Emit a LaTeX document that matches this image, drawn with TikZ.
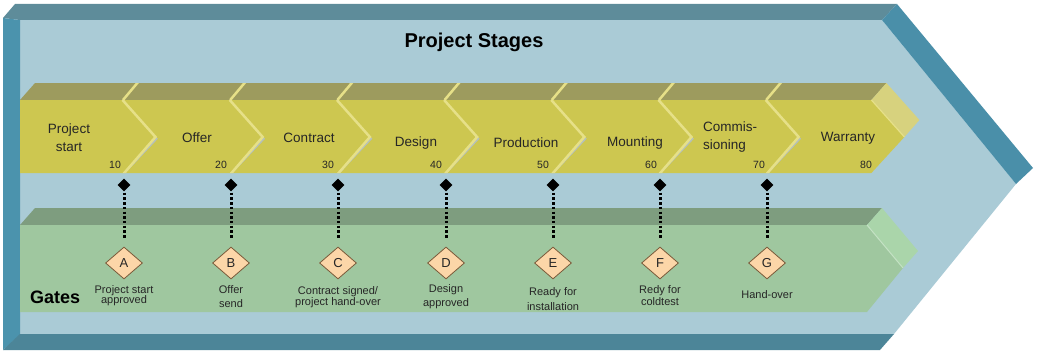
\documentclass[tikz,border=0pt]{standalone}
\usepackage{fontspec}
\setmainfont{Liberation Sans}
\usetikzlibrary{shapes.geometric}
\definecolor{face}{HTML}{AACBD6}
\definecolor{topband}{HTML}{5E8C9A}
\definecolor{leftband}{HTML}{4B93AD}
\definecolor{rightband}{HTML}{4A8FA9}
\definecolor{botband}{HTML}{4C8598}
\definecolor{yfront}{HTML}{CDC750}
\definecolor{ytop}{HTML}{9D9B5E}
\definecolor{yside}{HTML}{D7D27E}
\definecolor{ysep}{HTML}{E6E088}
\definecolor{yshadow}{HTML}{B4C0BC}
\definecolor{gfront}{HTML}{9FC79F}
\definecolor{gtop}{HTML}{7E9D7F}
\definecolor{gside}{HTML}{AAD5AA}
\definecolor{gatefill}{HTML}{FCD6A8}
\definecolor{gatedraw}{HTML}{7A5A3A}
\definecolor{txt}{HTML}{262626}
\tikzset{
  stagelbl/.style={font=\fontsize{13.5}{18}\selectfont, text=txt, align=center, inner sep=0pt},
  numlbl/.style={font=\fontsize{10.5}{12}\selectfont, text=txt, inner sep=0pt},
  gatelbl/.style={font=\fontsize{11}{#1}\selectfont, text=txt, align=center, inner sep=0pt},
  marker/.style={diamond, fill=black, minimum width=13pt, minimum height=13pt, inner sep=0pt},
  gatebox/.style={diamond, draw=gatedraw, line width=0.8pt, fill=gatefill, minimum width=37pt, minimum height=32pt, inner sep=0pt, font=\fontsize{13}{15}\selectfont, text=txt},
  dotline/.style={line width=3pt, dash pattern=on 2.5pt off 2.2pt, shorten <=1pt, shorten >=8pt}
}
\begin{document}
\begin{tikzpicture}[x=1pt,y=-1pt]
\useasboundingbox (0,0) rectangle (1038,353);
% frame
\fill[face] (20,20) -- (882,20) -- (1016,184) -- (894,334) -- (20,334) -- cycle;
\fill[topband] (3,18) -- (15,4) -- (897,4) -- (882,20) -- (20,20) -- cycle;
\fill[rightband] (897,4) -- (1033,168) -- (1016,184) -- (882,20) -- cycle;
\fill[leftband] (3,18) -- (20,20) -- (20,335) -- (3,350) -- cycle;
\fill[botband] (3,350) -- (20,334) -- (894,334) -- (880,350) -- cycle;
\node[font=\fontsize{20}{24}\selectfont\bfseries, inner sep=0pt] (title) at (474,42) {Project Stages};
% stage band
\fill[ytop] (20,100) -- (35,83) -- (886.4,83) -- (871.4,100) -- cycle;
\fill[yside] (871.4,100) -- (886.4,83) -- (919.4,120) -- (904.4,137) -- cycle;
\fill[yfront] (20,100) -- (871.4,100) -- (904.4,137) -- (871.4,173) -- (20,173) -- cycle;
\draw[ysep, line width=1.2pt] (871.4,100) -- (904.4,137);
\begin{scope}
  \clip (20,100) -- (35,83) -- (886.4,83) -- (871.4,100) -- (904.4,137) -- (871.4,173) -- (20,173) -- cycle;
  \foreach \k in {0,...,6}{
    \pgfmathsetmacro\t{154+107.2*\k}
    \pgfmathsetmacro\b{\t-33}
    \draw[ysep, line width=2.5pt] (\b+2,100) -- (\b+18,81);
    \draw[yshadow, line width=2pt] (\t+3.2,138) -- (\b+3.2,173);
    \draw[ysep, line width=2.5pt, line join=miter] (\b+1.5,100) -- (\t+1.5,137) -- (\b+1.5,175);
  }
\end{scope}
% gates band
\fill[gtop] (20,225) -- (35,208) -- (882,208) -- (867,225) -- cycle;
\fill[gside] (867,225) -- (882,208) -- (918,251) -- (903,268) -- cycle;
\fill[gfront] (20,225) -- (867,225) -- (903,268) -- (867,312) -- (20,312) -- cycle;
\draw[gside!70!white, line width=1pt] (867,225) -- (903,268);
\node[font=\fontsize{18}{20}\selectfont\bfseries, anchor=west, inner sep=0pt] (gates) at (30,297) {Gates};
% stage labels
\node[stagelbl] (s1) at (69,137.5) {Project\\start};
\node[stagelbl] (s2) at (197,138) {Offer};
\node[stagelbl] (s3) at (309,138) {Contract};
\node[stagelbl] (s4) at (416,143) {Design};
\node[stagelbl] (s5) at (526,143) {Production};
\node[stagelbl] (s6) at (635,143) {Mounting};
\node[stagelbl, align=left, anchor=west] (s7) at (703,137.5) {Commis-\\sioning};
\node[stagelbl] (s8) at (848,138) {Warranty};
% numbers
\node[numlbl] (n1) at (115,165) {10};
\node[numlbl] (n2) at (221,165) {20};
\node[numlbl] (n3) at (328,165) {30};
\node[numlbl] (n4) at (436,165) {40};
\node[numlbl] (n5) at (543,165) {50};
\node[numlbl] (n6) at (651,165) {60};
\node[numlbl] (n7) at (759,165) {70};
\node[numlbl] (n8) at (866,165) {80};
% markers and gates
\foreach \x/\n/\l in {124/1/A, 231/2/B, 338/3/C, 446/4/D, 553/5/E, 660/6/F, 767/7/G}{
  \node[marker] (m\n) at (\x,185) {};
  \node[gatebox] (g\n) at (\x,263) {\l};
  \draw[dotline] (m\n) -- (g\n);
}
% gate labels
\node[gatelbl=10.5] (t1) at (124,295.5) {Project start\\approved};
\node[gatelbl=13.5] (t2) at (231,296.5) {Offer\\send};
\node[gatelbl=11] (t3) at (338,297.5) {Contract signed/\\project hand-over};
\node[gatelbl=14] (t4) at (446,296.5) {Design\\approved};
\node[gatelbl=15] (t5) at (553,299) {Ready for\\installation};
\node[gatelbl=12] (t6) at (660,295.5) {Redy for\\coldtest};
\node[gatelbl=12] (t7) at (767,295) {Hand-over};
\end{tikzpicture}
\end{document}
